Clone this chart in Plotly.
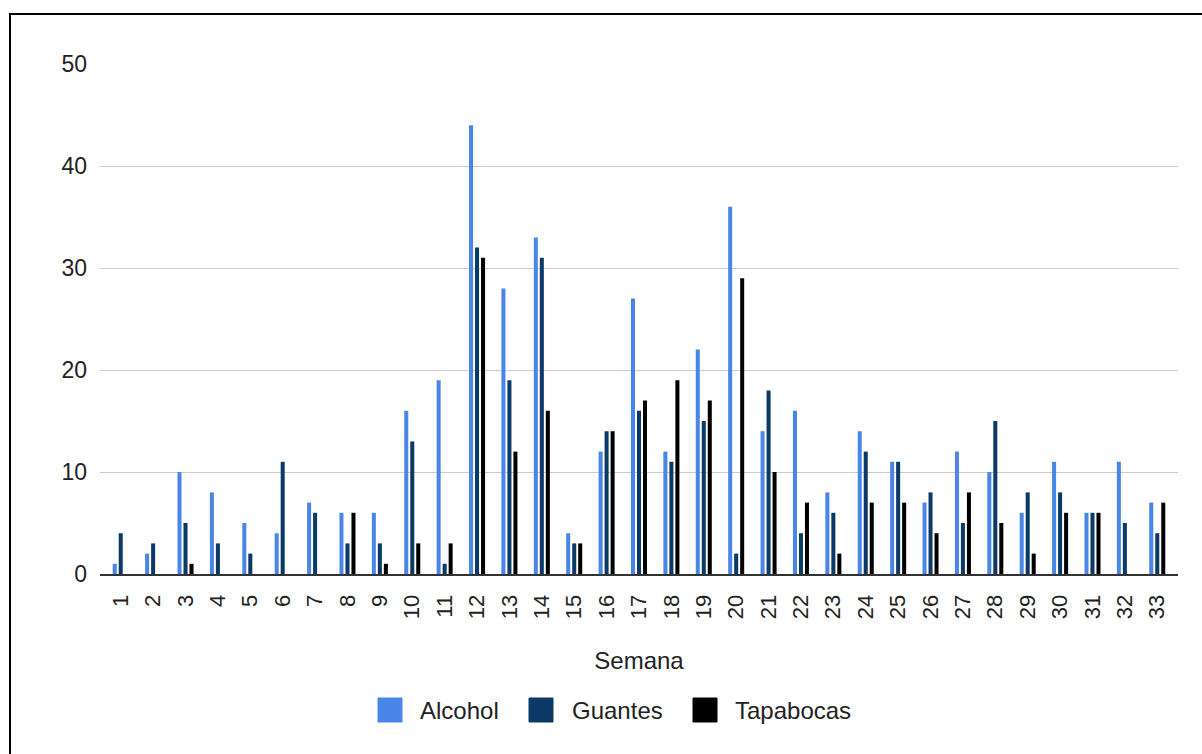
import plotly.graph_objects as go

semanas = [str(i) for i in range(1, 34)]
alcohol = [1, 2, 10, 8, 5, 4, 7, 6, 6, 16, 19, 44, 28, 33, 4, 12, 27, 12, 22, 36,
           14, 16, 8, 14, 11, 7, 12, 10, 6, 11, 6, 11, 7]
guantes = [4, 3, 5, 3, 2, 11, 6, 3, 3, 13, 1, 32, 19, 31, 3, 14, 16, 11, 15, 2,
           18, 4, 6, 12, 11, 8, 5, 15, 8, 8, 6, 5, 4]
tapabocas = [0, 0, 1, 0, 0, 0, 0, 6, 1, 3, 3, 31, 12, 16, 3, 14, 17, 19, 17, 29,
             10, 7, 2, 7, 7, 4, 8, 5, 2, 6, 6, 0, 7]

series = [
    ("Alcohol", alcohol, "#4a86e8"),
    ("Guantes", guantes, "#0b3a67"),
    ("Tapabocas", tapabocas, "#000000"),
]

W, H = 1202, 754
ML, MR, MT, MB = 100, 24, 64, 180
PW, PH = W - ML - MR, H - MT - MB


def px_x(px):
    return (px - ML) / PW


def px_y(py):
    return (H - MB - py) / PH


font = "Liberation Sans, Arial, sans-serif"
txt = "#222222"
fig = go.Figure()
for name, vals, color in series:
    fig.add_trace(go.Bar(x=list(range(len(semanas))), y=vals, name=name,
                         showlegend=False,
                         marker=dict(color=color, line=dict(width=0))))

# legend drawn as swatches + labels below the axis title
shapes = [dict(type="rect", xref="paper", yref="paper",
               x0=px_x(10), x1=px_x(1230), y0=px_y(790), y1=px_y(14),
               line=dict(color="black", width=2), fillcolor="rgba(0,0,0,0)")]
annotations = []
legend_x = [(378, 418), (529, 570), (693, 733)]
for (name, _, color), (sx, tx) in zip(series, legend_x):
    shapes.append(dict(type="rect", xref="paper", yref="paper",
                       x0=px_x(sx), x1=px_x(sx + 24), y0=px_y(722), y1=px_y(698),
                       line=dict(color=color, width=1), fillcolor=color))
    annotations.append(dict(text=name, xref="paper", yref="paper",
                            x=px_x(tx), y=px_y(710), xanchor="left", yanchor="middle",
                            showarrow=False, font=dict(size=24, color=txt)))

fig.update_layout(
    width=W, height=H,
    margin=dict(l=ML, r=MR, t=MT, b=MB),
    paper_bgcolor="white", plot_bgcolor="white",
    barmode="group", bargap=0.444, bargroupgap=0.33,
    font=dict(family=font, size=23, color=txt),
    showlegend=False,
    xaxis=dict(
        range=[-0.64, 32.64],
        tickmode="array", tickvals=list(range(len(semanas))), ticktext=semanas,
        tickangle=-90, showgrid=False, zeroline=False,
        showline=True, linecolor="#333333", linewidth=2,
        ticks="", ticklen=0, ticklabelstandoff=10,
        tickfont=dict(size=22, color=txt),
        title=dict(text="Semana", font=dict(size=24, color=txt), standoff=34),
    ),
    yaxis=dict(
        range=[0, 50], tickvals=[0, 10, 20, 30, 40, 50],
        showgrid=True, gridcolor="#cccccc", gridwidth=1,
        zeroline=False, showline=False, ticks="",
        tickfont=dict(size=23, color=txt), ticklabelstandoff=12,
    ),
    shapes=shapes,
    annotations=annotations,
)

fig.write_html("out.html")
